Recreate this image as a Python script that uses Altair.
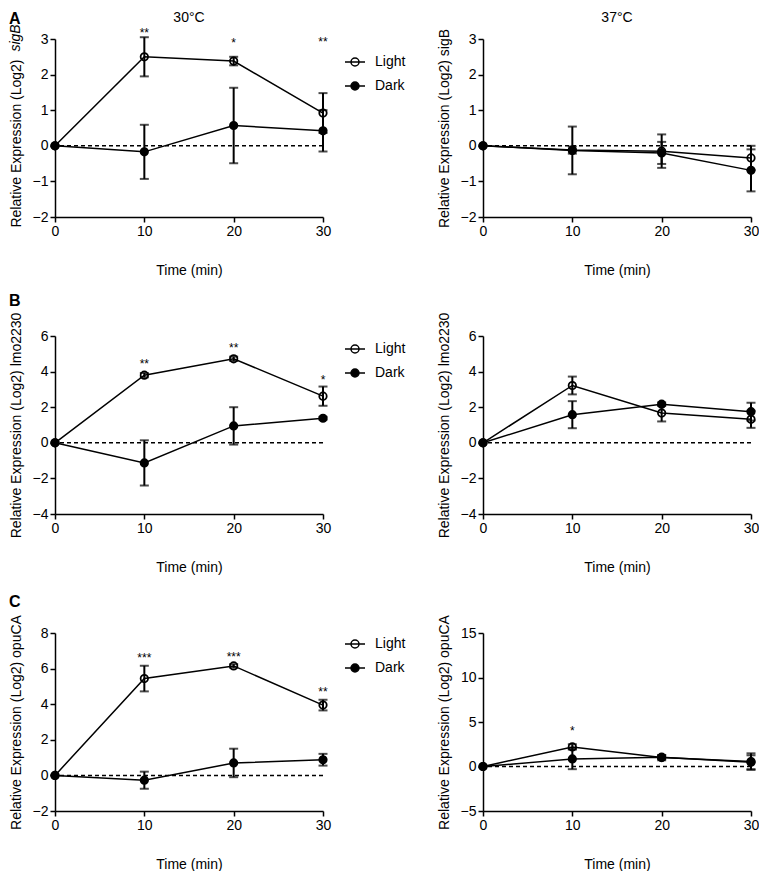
import altair as alt
import pandas as pd

FONT = "Liberation Sans"

time = [0, 10, 20, 30]
series_names = ["Light", "Dark"]

# Panel A: sigB
sigB_30_light = [0, 2.50, 2.38, 0.92]
sigB_30_light_sem = [0, 0.55, 0.12, 0.56]
sigB_30_dark = [0, -0.17, 0.57, 0.42]
sigB_30_dark_sem = [0, 0.76, 1.06, 0.58]
sigB_30_star_time = [10, 20, 30]
sigB_30_star_text = ["**", "*", "**"]
sigB_30_star_y = [3.17, 2.89, 2.91]

sigB_37_light = [0, -0.12, -0.15, -0.34]
sigB_37_light_sem = [0, 0.10, 0.47, 0.34]
sigB_37_dark = [0, -0.13, -0.20, -0.69]
sigB_37_dark_sem = [0, 0.67, 0.31, 0.59]

# Panel B: lmo2230
lmo_30_light = [0, 3.80, 4.72, 2.62]
lmo_30_light_sem = [0, 0.12, 0.12, 0.54]
lmo_30_dark = [0, -1.13, 0.95, 1.38]
lmo_30_dark_sem = [0, 1.27, 1.05, 0.08]
lmo_30_star_time = [10, 20, 30]
lmo_30_star_text = ["**", "**", "*"]
lmo_30_star_y = [4.42, 5.30, 3.53]

lmo_37_light = [0, 3.22, 1.67, 1.32]
lmo_37_light_sem = [0, 0.50, 0.47, 0.48]
lmo_37_dark = [0, 1.58, 2.17, 1.75]
lmo_37_dark_sem = [0, 0.76, 0.10, 0.50]

# Panel C: opuCA
opu_30_light = [0, 5.44, 6.15, 3.95]
opu_30_light_sem = [0, 0.72, 0.10, 0.30]
opu_30_dark = [0, -0.27, 0.70, 0.88]
opu_30_dark_sem = [0, 0.48, 0.80, 0.33]
opu_30_star_time = [10, 20, 30]
opu_30_star_text = ["***", "***", "**"]
opu_30_star_y = [6.60, 6.65, 4.67]

opu_37_light = [0, 2.20, 1.00, 0.55]
opu_37_light_sem = [0, 0.30, 0.30, 0.93]
opu_37_dark = [0, 0.85, 1.05, 0.48]
opu_37_dark_sem = [0, 1.15, 0.20, 0.78]
opu_37_star_time = [10]
opu_37_star_text = ["*"]
opu_37_star_y = [4.0]

W, H = 268, 178
LEGEND_PATH = "M-1,0H1M0.4,0A0.4,0.4,0,1,1,-0.4,0A0.4,0.4,0,1,1,0.4,0Z"


def panel(light, light_sem, dark, dark_sem, ydom, yticks, ytitle,
          stars=None, legend_y=None, letter=None, letter_y=-28,
          coltitle=None, italic_gene=None, title_y=None):
    rows = []
    for name, m, s in (("Light", light, light_sem), ("Dark", dark, dark_sem)):
        for t, mv, sv in zip(time, m, s):
            rows.append({"time": t, "series": name, "mean": mv,
                         "lo": mv - sv, "hi": mv + sv, "sem": sv})
    df = pd.DataFrame(rows)
    base = alt.Chart(df)

    xenc = alt.X("time:Q", scale=alt.Scale(domain=[0, 30], nice=False, zero=False),
                 axis=alt.Axis(values=time, title="Time (min)", titlePadding=25,
                               labelFlush=False))

    yaxis_kw = dict(values=yticks, title=ytitle, titleX=-39, titleBaseline="middle")
    if title_y is not None:
        yaxis_kw["titleY"] = title_y

    def yenc(field):
        return alt.Y(f"{field}:Q", scale=alt.Scale(domain=ydom, nice=False, zero=False),
                     axis=alt.Axis(**yaxis_kw))

    layers = []
    zero = alt.Chart(pd.DataFrame({"z": [0]})).mark_rule(
        color="black", strokeWidth=1.5, strokeDash=[4, 3]).encode(y=yenc("z"))
    layers.append(zero)

    err = base.transform_filter("datum.sem > 0")
    layers.append(err.mark_rule(color="black", strokeWidth=2).encode(
        x=xenc, y=yenc("lo"), y2="hi:Q"))
    layers.append(err.mark_tick(orient="horizontal", size=9, thickness=2, color="black").encode(
        x=xenc, y=yenc("lo")))
    layers.append(err.mark_tick(orient="horizontal", size=9, thickness=2, color="black").encode(
        x=xenc, y=yenc("hi")))

    layers.append(base.mark_line(color="black", strokeWidth=1.5).encode(
        x=xenc, y=yenc("mean"), detail="series:N"))

    if legend_y is not None:
        leg = alt.Legend(orient="none", legendX=289, legendY=legend_y, title=None,
                         symbolType=LEGEND_PATH, symbolSize=400,
                         symbolStrokeColor="black", symbolStrokeWidth=1.5,
                         labelFontSize=14, labelFont=FONT, labelColor="black",
                         labelOffset=9, rowPadding=6, padding=0)
    else:
        leg = None
    layers.append(base.mark_point(shape="circle", filled=True, size=55, stroke="black",
                                  strokeWidth=1.8, opacity=1).encode(
        x=xenc, y=yenc("mean"),
        fill=alt.Fill("series:N", scale=alt.Scale(domain=series_names,
                                                  range=["transparent", "black"]),
                      legend=leg)))

    if stars is not None:
        sdf = pd.DataFrame({"time": stars[0], "label": stars[1], "y": stars[2]})
        layers.append(alt.Chart(sdf).mark_text(fontSize=12, baseline="alphabetic", dy=4,
                                               font=FONT, color="black").encode(
            x=xenc, y=yenc("y"), text="label:N"))

    if letter is not None:
        layers.append(alt.Chart(pd.DataFrame({"t": [letter]})).mark_text(
            fontSize=16, fontWeight="bold", align="left", baseline="top",
            font=FONT, color="black").encode(
            x=alt.value(-46), y=alt.value(letter_y), text="t:N"))

    if coltitle is not None:
        layers.append(alt.Chart(pd.DataFrame({"t": [coltitle]})).mark_text(
            fontSize=14, align="center", baseline="top",
            font=FONT, color="black").encode(
            x=alt.value(W / 2), y=alt.value(-28), text="t:N"))

    if italic_gene is not None:
        layers.append(alt.Chart(pd.DataFrame({"t": [italic_gene]})).mark_text(
            fontSize=14, fontStyle="italic", angle=270, align="center", baseline="middle",
            font=FONT, color="black").encode(
            x=alt.value(-39), y=alt.value(-1), text="t:N"))

    return alt.layer(*layers).properties(width=W, height=H)


A30 = panel(sigB_30_light, sigB_30_light_sem, sigB_30_dark, sigB_30_dark_sem,
            [-2, 3], list(range(-2, 4)), "Relative Expression (Log2)",
            stars=(sigB_30_star_time, sigB_30_star_text, sigB_30_star_y),
            legend_y=12, letter="A", letter_y=-28, coltitle="30°C",
            italic_gene="sigB", title_y=104)
A37 = panel(sigB_37_light, sigB_37_light_sem, sigB_37_dark, sigB_37_dark_sem,
            [-2, 3], list(range(-2, 4)), "Relative Expression (Log2) sigB",
            coltitle="37°C")
B30 = panel(lmo_30_light, lmo_30_light_sem, lmo_30_dark, lmo_30_dark_sem,
            [-4, 6], list(range(-4, 7, 2)), "Relative Expression (Log2) lmo2230",
            stars=(lmo_30_star_time, lmo_30_star_text, lmo_30_star_y),
            legend_y=2, letter="B", letter_y=-43)
B37 = panel(lmo_37_light, lmo_37_light_sem, lmo_37_dark, lmo_37_dark_sem,
            [-4, 6], list(range(-4, 7, 2)), "Relative Expression (Log2) lmo2230")
C30 = panel(opu_30_light, opu_30_light_sem, opu_30_dark, opu_30_dark_sem,
            [-2, 8], list(range(-2, 9, 2)), "Relative Expression (Log2) opuCA",
            stars=(opu_30_star_time, opu_30_star_text, opu_30_star_y),
            legend_y=0, letter="C", letter_y=-39)
C37 = panel(opu_37_light, opu_37_light_sem, opu_37_dark, opu_37_dark_sem,
            [-5, 15], list(range(-5, 16, 5)), "Relative Expression (Log2) opuCA",
            stars=(opu_37_star_time, opu_37_star_text, opu_37_star_y))

chart = alt.concat(
    A30, A37, B30, B37, C30, C37, columns=2,
    spacing={"row": 119, "column": 160}, bounds="flush",
).resolve_scale(fill="independent").resolve_legend(fill="independent").properties(
    padding={"left": 0, "top": 3, "right": 0, "bottom": 0}
).configure(font=FONT).configure_view(stroke=None).configure_axis(
    grid=False, domainColor="black", domainWidth=1.5, tickColor="black", tickWidth=1.5,
    tickSize=5, labelFontSize=14, labelColor="black", labelFont=FONT, labelPadding=2,
    titleFontSize=14, titleFontWeight="normal", titleColor="black", titleFont=FONT,
)

chart.save("out.html", embed_options={"renderer": "svg", "actions": False})
